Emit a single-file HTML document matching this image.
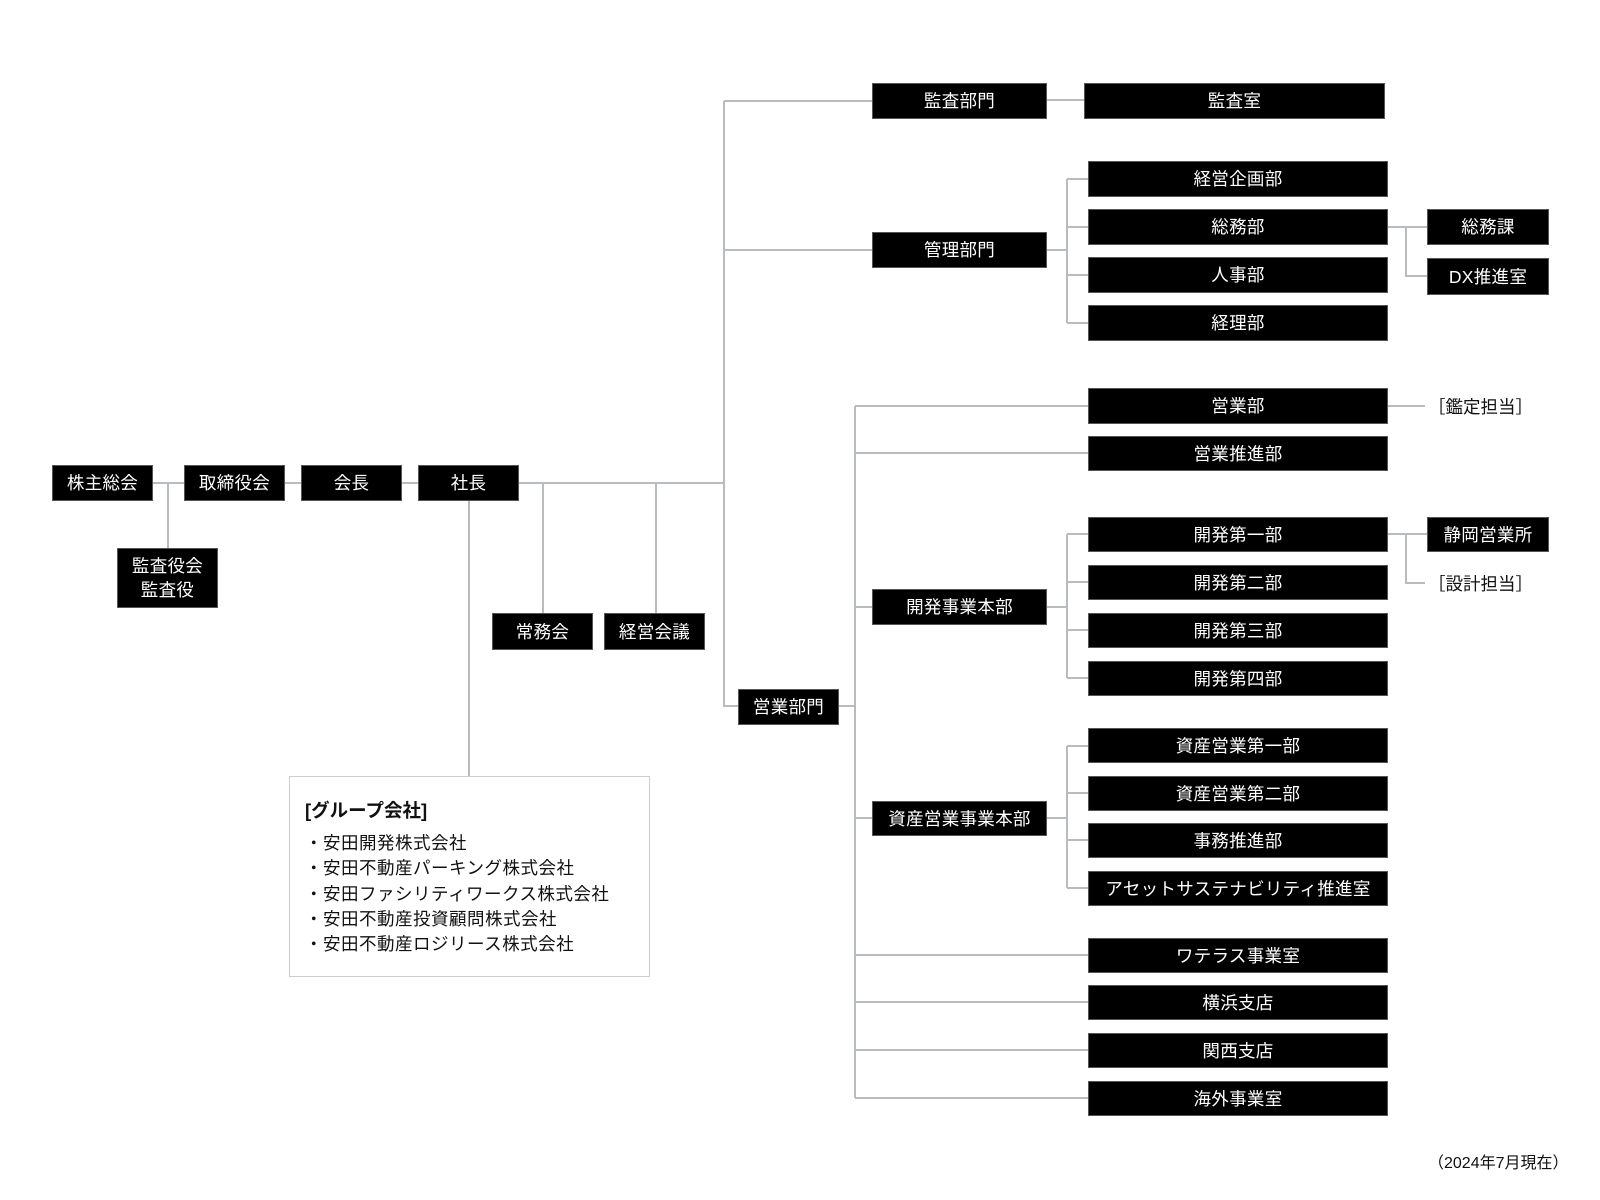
<!DOCTYPE html>
<html><head><meta charset="utf-8"><style>
body{margin:0;width:1600px;height:1200px;background:#fff;position:relative;overflow:hidden;font-family:"Liberation Sans","Noto Sans CJK JP",sans-serif;}
.b{position:absolute;background:#000;color:#fff;font-size:17.5px;display:flex;align-items:center;justify-content:center;text-align:center;line-height:24px;box-sizing:border-box;border:1px solid #555;letter-spacing:0.3px;}
.t{position:absolute;font-size:17px;color:#111;white-space:nowrap;}
svg{position:absolute;left:0;top:0;}
</style></head><body>
<svg width="1600" height="1200"><g stroke="#b8bcbf" stroke-width="2" fill="none">
<path d="M153 483H184M285 483H301M402 483H418M519 483H724"/>
<path d="M168 483V548"/>
<path d="M469 500V776"/>
<path d="M543 483V613M656 483V613"/>
<path d="M724 101V706H738M724 101H872M724 250H872"/>
<path d="M1047 100H1084"/>
<path d="M1047 250H1067M1067 179V323M1067 179H1088M1067 227H1088M1067 275H1088M1067 323H1088"/>
<path d="M1388 227H1427M1406 227V276H1427"/>
<path d="M839 706H855M855 406V1098M855 406H1088M855 453H1088M855 607H872M855 818H872M855 955H1088M855 1002H1088M855 1050H1088M855 1098H1088"/>
<path d="M1388 406H1425"/>
<path d="M1047 607H1067M1067 534V678M1067 534H1088M1067 582H1088M1067 630H1088M1067 678H1088"/>
<path d="M1388 534H1427M1406 534V583H1425"/>
<path d="M1047 818H1067M1067 746V888M1067 746H1088M1067 793H1088M1067 840H1088M1067 888H1088"/>
</g></svg>
<div class="b" style="left:52px;top:465px;width:101px;height:36px">株主総会</div>
<div class="b" style="left:184px;top:465px;width:101px;height:36px">取締役会</div>
<div class="b" style="left:301px;top:465px;width:101px;height:36px">会長</div>
<div class="b" style="left:418px;top:465px;width:101px;height:36px">社長</div>
<div class="b" style="left:117px;top:548px;width:101px;height:60px">監査役会<br>監査役</div>
<div class="b" style="left:492px;top:613px;width:101px;height:37px">常務会</div>
<div class="b" style="left:604px;top:613px;width:101px;height:37px">経営会議</div>
<div class="b" style="left:738px;top:689px;width:101px;height:36px">営業部門</div>
<div class="b" style="left:872px;top:83px;width:175px;height:36px">監査部門</div>
<div class="b" style="left:1084px;top:83px;width:301px;height:36px">監査室</div>
<div class="b" style="left:872px;top:232px;width:175px;height:36px">管理部門</div>
<div class="b" style="left:1088px;top:161px;width:300px;height:36px">経営企画部</div>
<div class="b" style="left:1088px;top:209px;width:300px;height:36px">総務部</div>
<div class="b" style="left:1088px;top:257px;width:300px;height:36px">人事部</div>
<div class="b" style="left:1088px;top:305px;width:300px;height:36px">経理部</div>
<div class="b" style="left:1427px;top:209px;width:122px;height:36px">総務課</div>
<div class="b" style="left:1427px;top:258px;width:122px;height:37px">DX推進室</div>
<div class="b" style="left:1088px;top:388px;width:300px;height:36px">営業部</div>
<div class="b" style="left:1088px;top:436px;width:300px;height:35px">営業推進部</div>
<div class="t" style="left:1428px;top:394px;font-size:17.5px">［鑑定担当］</div>
<div class="b" style="left:872px;top:589px;width:175px;height:36px">開発事業本部</div>
<div class="b" style="left:1088px;top:517px;width:300px;height:35px">開発第一部</div>
<div class="b" style="left:1088px;top:565px;width:300px;height:35px">開発第二部</div>
<div class="b" style="left:1088px;top:613px;width:300px;height:35px">開発第三部</div>
<div class="b" style="left:1088px;top:661px;width:300px;height:35px">開発第四部</div>
<div class="b" style="left:1427px;top:517px;width:122px;height:35px">静岡営業所</div>
<div class="t" style="left:1428px;top:571px;font-size:17.5px">［設計担当］</div>
<div class="b" style="left:872px;top:801px;width:175px;height:35px">資産営業事業本部</div>
<div class="b" style="left:1088px;top:728px;width:300px;height:35px">資産営業第一部</div>
<div class="b" style="left:1088px;top:776px;width:300px;height:35px">資産営業第二部</div>
<div class="b" style="left:1088px;top:823px;width:300px;height:35px">事務推進部</div>
<div class="b" style="left:1088px;top:871px;width:300px;height:35px">アセットサステナビリティ推進室</div>
<div class="b" style="left:1088px;top:938px;width:300px;height:35px">ワテラス事業室</div>
<div class="b" style="left:1088px;top:985px;width:300px;height:35px">横浜支店</div>
<div class="b" style="left:1088px;top:1033px;width:300px;height:35px">関西支店</div>
<div class="b" style="left:1088px;top:1081px;width:300px;height:35px">海外事業室</div>
<div style="position:absolute;left:289px;top:776px;width:361px;height:201px;border:1px solid #ccc;box-sizing:border-box;background:#fff"></div>
<div class="t" style="left:305px;top:797px;font-weight:bold;font-size:18.5px">[グループ会社]</div>
<div class="t" style="left:305px;top:831px;line-height:25.3px;font-size:17.5px;letter-spacing:0.5px">・安田開発株式会社<br>・安田不動産パーキング株式会社<br>・安田ファシリティワークス株式会社<br>・安田不動産投資顧問株式会社<br>・安田不動産ロジリース株式会社</div>
<div class="t" style="left:1428px;top:1149px;font-size:16px">（2024年7月現在）</div>
</body></html>
